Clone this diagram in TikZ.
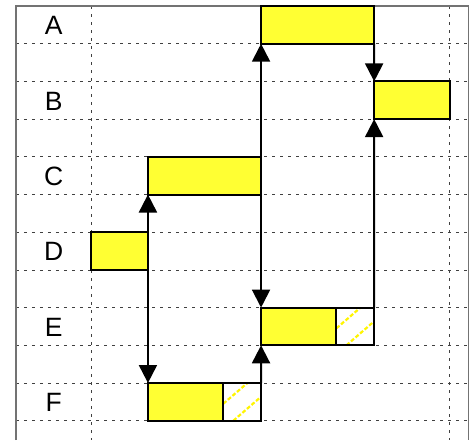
\documentclass[tikz,border=0pt]{standalone}
\usepackage{fontspec}
\setmainfont{Liberation Sans}
\usetikzlibrary{arrows.meta,calc}
\definecolor{barfill}{RGB}{255,255,51}
\definecolor{hatchcol}{RGB}{255,245,0}
\tikzset{
  gridline/.style={black!75, line width=0.8pt, dash pattern=on 3pt off 5pt},
  frameline/.style={black!55, line width=1.2pt},
  bar/.style={draw=black, fill=barfill, line width=2pt, inner sep=0pt, outer sep=0pt,
              anchor=north west, minimum height=37.7pt},
  hatchbar/.style={draw=black, fill=white, line width=2pt, inner sep=0pt, outer sep=0pt,
              anchor=north west, minimum height=37.7pt, minimum width=37.7pt,
              path picture={
                \draw[hatchcol, line width=2.2pt, dash pattern=on 4pt off 2pt]
                  ($(path picture bounding box.south west)+(0pt,17pt)$) --
                  ($(path picture bounding box.south west)+(24pt,37.7pt)$);
                \draw[hatchcol, line width=2.2pt, dash pattern=on 4pt off 2pt]
                  ($(path picture bounding box.south west)+(10pt,0pt)$) --
                  ($(path picture bounding box.south west)+(37.7pt,24pt)$);
              }},
  rowlabel/.style={font=\fontsize{26.5}{30}\selectfont, inner sep=0pt},
  conn/.style={draw=black, line width=2pt},
  bigtri/.tip={Triangle[width=18pt,length=18pt]}
}
\begin{document}
\begin{tikzpicture}[x=37.7pt,y=-37.7pt]
\useasboundingbox (-0.4244,-0.1592) rectangle (12.0955,11.512);
% grid
\foreach \r in {1,...,11} \draw[gridline] (0,\r) -- (12,\r);
\draw[gridline] (2,0) -- (2,11.512);
\draw[gridline] (11.5,0) -- (11.5,11.512);
% frame
\draw[frameline] (0,11.512) -- (0,0) -- (12,0) -- (12,11.512);
% labels
\node[rowlabel] (lA) at (1,0.52) {A};
\node[rowlabel] (lB) at (1,2.52) {B};
\node[rowlabel] (lC) at (1,4.52) {C};
\node[rowlabel] (lD) at (1,6.52) {D};
\node[rowlabel] (lE) at (1,8.52) {E};
\node[rowlabel] (lF) at (1,10.52) {F};
% bars
\node[bar, minimum width=3*37.7pt] (A) at (6.5,0) {};
\node[bar, minimum width=2*37.7pt] (B) at (9.5,2) {};
\node[bar, minimum width=3*37.7pt] (C) at (3.5,4) {};
\node[bar, minimum width=1.5*37.7pt] (D) at (2,6) {};
\node[bar, minimum width=2*37.7pt] (E) at (6.5,8) {};
\node[hatchbar] (Eh) at (8.5,8) {};
\node[bar, minimum width=2*37.7pt] (F) at (3.5,10) {};
\node[hatchbar] (Fh) at (5.5,10) {};
% connectors
\draw[conn,-{bigtri}] (A.south east) -- (B.north west);
\draw[conn,{bigtri}-{bigtri}] (A.south west) -- (E.north west);
\draw[conn,-{bigtri}] (Fh.north east) -- (E.south west);
\draw[conn,{bigtri}-{bigtri}] (C.south west) -- (F.north west);
\draw[conn,-{bigtri}] (Eh.north east) -- (B.south west);
\end{tikzpicture}
\end{document}
